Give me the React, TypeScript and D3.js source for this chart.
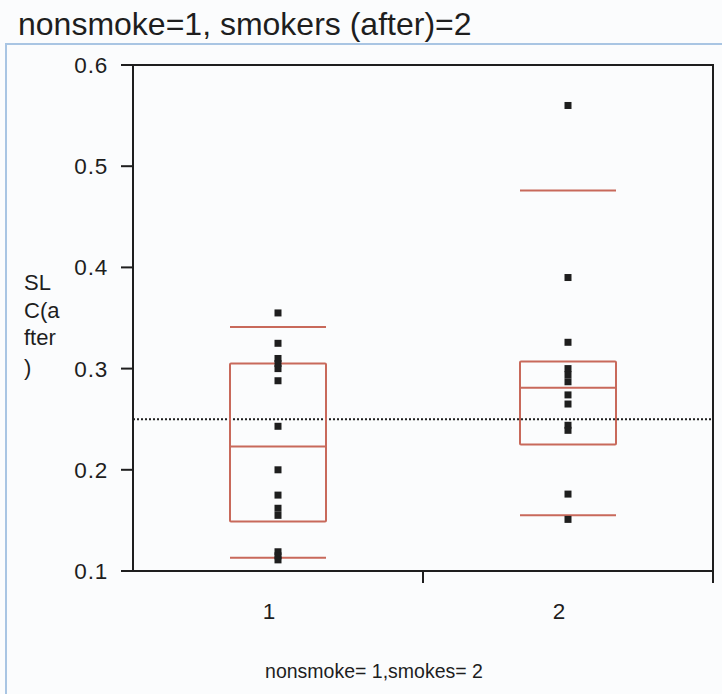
import React from "react";
import * as d3 from "d3";

const categories = ["1", "2"];
const group1Values = [0.355, 0.325, 0.31, 0.305, 0.3, 0.288, 0.243, 0.2, 0.175, 0.162, 0.155, 0.119, 0.115, 0.111];
const group2Values = [0.56, 0.39, 0.326, 0.3, 0.294, 0.287, 0.274, 0.265, 0.244, 0.239, 0.176, 0.151];
const whiskerLow = [0.113, 0.155];
const q1 = [0.149, 0.225];
const medians = [0.223, 0.281];
const q3 = [0.305, 0.307];
const whiskerHigh = [0.341, 0.476];
const referenceValue = 0.25;
const yTicks = [0.1, 0.2, 0.3, 0.4, 0.5, 0.6];
const yTitleLines = ["SL", "C(a", "fter", ")"];
const title = "nonsmoke=1, smokers (after)=2";
const xTitle = "nonsmoke= 1,smokes= 2";

export default function App() {
  const W = 722, H = 694;
  const left = 133, right = 713, top = 65, bottom = 571;
  const y = d3.scaleLinear().domain([0.1, 0.6]).range([bottom, top]);
  const x = d3.scaleBand().domain(categories).range([left, right]);
  const cx = (c: string) => (x(c) as number) + x.bandwidth() / 2;
  const halfBox = 48;
  const red = "#c8695b";
  const ink = "#1e1e1e";
  const font = "'Liberation Sans', Arial, sans-serif";
  const allValues = [group1Values, group2Values];

  return (
    <svg width={W} height={H} style={{ position: "absolute", left: 0, top: 0, background: "#fbfcfd" }} fontFamily={font}>
      <rect x={0} y={0} width={W} height={H} fill="#fbfcfd" />
      <text x={18} y={35} fontSize={32} fill={ink}>{title}</text>
      <path d={`M6,${H} V44 H${W}`} fill="none" stroke="#a9c5e3" strokeWidth={2} />

      {/* reference line */}
      <line x1={left} x2={right} y1={y(referenceValue)} y2={y(referenceValue)} stroke={ink} strokeWidth={2} strokeDasharray="2,2" />

      {/* boxes */}
      {categories.map((c, i) => {
        const m = cx(c);
        return (
          <g key={c} stroke={red} strokeWidth={2} fill="none">
            <rect x={m - halfBox} y={y(q3[i])} width={halfBox * 2} height={y(q1[i]) - y(q3[i])} rx={1} />
            <line x1={m - halfBox} x2={m + halfBox} y1={y(medians[i])} y2={y(medians[i])} />
            <line x1={m - halfBox} x2={m + halfBox} y1={y(whiskerHigh[i])} y2={y(whiskerHigh[i])} />
            <line x1={m - halfBox} x2={m + halfBox} y1={y(whiskerLow[i])} y2={y(whiskerLow[i])} />
          </g>
        );
      })}

      {/* points */}
      {categories.map((c, i) =>
        allValues[i].map((v, j) => (
          <rect key={c + j} x={cx(c) - 3.5} y={y(v) - 3.5} width={7} height={7} fill={ink} />
        ))
      )}

      {/* frame */}
      <path d={`M${left},${bottom} V${top} H${right} V${bottom + 12}`} fill="none" stroke={ink} strokeWidth={2} />
      <line x1={left - 12} x2={right} y1={bottom} y2={bottom} stroke={ink} strokeWidth={2} />
      <line x1={x("2") as number} x2={x("2") as number} y1={bottom} y2={bottom + 12} stroke={ink} strokeWidth={2} />

      {/* y ticks */}
      {yTicks.map((t) => (
        <g key={t}>
          <line x1={left - 12} x2={left} y1={y(t)} y2={y(t)} stroke={ink} strokeWidth={2} />
          <text x={108} y={y(t) + 8} fontSize={22.5} textAnchor="end" fill={ink} letterSpacing={0.8}>
            {t.toFixed(1)}
          </text>
        </g>
      ))}

      {/* x labels */}
      {categories.map((c) => (
        <text key={c} x={cx(c) - 9} y={619} fontSize={22.5} textAnchor="middle" fill={ink}>{c}</text>
      ))}

      {/* y title */}
      {yTitleLines.map((s, i) => (
        <text key={i} x={24} y={[290, 318, 345, 375][i]} fontSize={22} fill={ink}>{s}</text>
      ))}

      <text x={374} y={678} fontSize={19.5} textAnchor="middle" fill={ink}>{xTitle}</text>
    </svg>
  );
}
